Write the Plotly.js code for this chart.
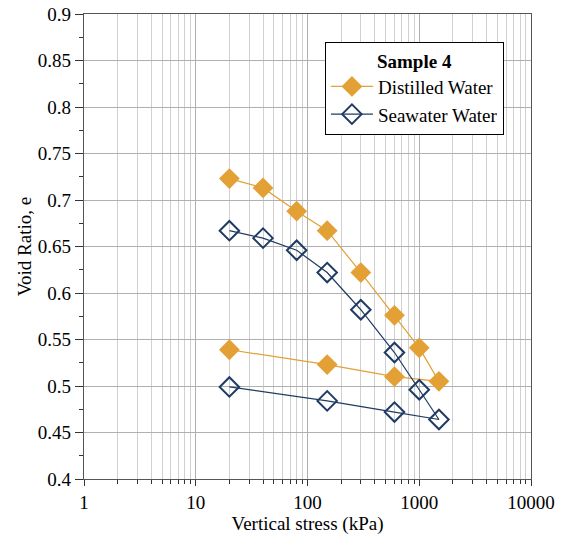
<!DOCTYPE html>
<html>
<head>
<meta charset="utf-8">
<script src="https://cdn.plot.ly/plotly-3.0.1.min.js"></script>
<style>html,body{margin:0;padding:0;background:#fff;}#chart{width:565px;height:540px;}</style>
</head>
<body>
<div id="chart"></div>
<script>
var stress = [20, 40, 80, 150, 300, 600, 1000, 1500, 600, 150, 20];
var distilledVoid = [0.723, 0.713, 0.688, 0.667, 0.622, 0.576, 0.541, 0.505, 0.510, 0.523, 0.539];
var seawaterVoid = [0.667, 0.659, 0.646, 0.622, 0.582, 0.536, 0.496, 0.464, 0.472, 0.484, 0.499];
var seriesNames = ["Distilled Water", "Seawater Water"];
var legendTitle = "Sample 4";
var xTickVals = [1, 10, 100, 1000, 10000];
var xTickText = ["1", "10", "100", "1000", "10000"];

var orange = "#E3A035";
var navy = "#1F3B63";
var font = "Liberation Serif, Times New Roman, serif";
var fs = 19;

var traces = [
  {
    x: stress, y: distilledVoid, name: seriesNames[0], mode: "lines+markers",
    type: "scatter",
    line: {color: orange, width: 1.2},
    marker: {symbol: "diamond", size: 16, color: orange}
  },
  {
    x: stress, y: seawaterVoid, name: seriesNames[1], mode: "lines+markers",
    type: "scatter",
    line: {color: navy, width: 1.2},
    marker: {symbol: "diamond-open", size: 15, color: navy, line: {width: 2, color: navy}}
  }
];

var layout = {
  width: 565, height: 540,
  margin: {l: 84, r: 34, t: 14, b: 61},
  paper_bgcolor: "#fff", plot_bgcolor: "#fff",
  font: {family: font, size: fs, color: "#000"},
  showlegend: true,
  legend: {
    x: 0.539, y: 0.94, xanchor: "left", yanchor: "top",
    bgcolor: "#fff", bordercolor: "#000", borderwidth: 1,
    font: {family: font, size: fs, color: "#000"},
    title: {text: "<b>" + legendTitle + "</b>", side: "top center", font: {family: font, size: fs}},
    itemwidth: 42,
    tracegroupgap: 0
  },
  xaxis: {
    type: "log", range: [0, 4],
    tickvals: xTickVals, ticktext: xTickText,
    ticks: "outside", ticklen: 6, tickcolor: "#333", tickwidth: 1,
    showline: true, linecolor: "#555", linewidth: 1.3, mirror: true,
    showgrid: true, gridcolor: "#b0b0b0", gridwidth: 1,
    zeroline: false,
    minor: {dtick: "D1", ticks: "outside", ticklen: 4, tickcolor: "#333", showgrid: true, gridcolor: "#d0d0d0", gridwidth: 1},
    title: {text: "Vertical stress (kPa)", font: {family: font, size: fs}, standoff: 2},
    tickfont: {family: font, size: fs}
  },
  yaxis: {
    range: [0.4, 0.9], dtick: 0.05, tick0: 0.4,
    tickformat: "~g",
    ticks: "outside", ticklen: 8, tickcolor: "#333", tickwidth: 1,
    showline: true, linecolor: "#555", linewidth: 1.3, mirror: true,
    showgrid: true, gridcolor: "#b0b0b0", gridwidth: 1,
    zeroline: false,
    minor: {dtick: 0.025, ticks: "outside", ticklen: 4, tickcolor: "#333", showgrid: false},
    title: {text: "Void Ratio, e", font: {family: font, size: fs}, standoff: 1},
    tickfont: {family: font, size: fs}
  }
};

Plotly.newPlot("chart", traces, layout, {displayModeBar: false, staticPlot: true});
</script>
</body>
</html>
